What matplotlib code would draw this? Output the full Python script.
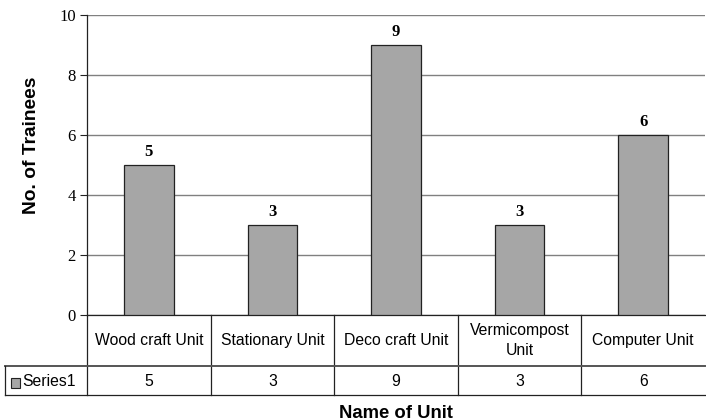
import numpy as np
import matplotlib.pyplot as plt

units = ["Wood craft Unit", "Stationary Unit", "Deco craft Unit", "Vermicompost\nUnit", "Computer Unit"]
trainees = [5, 3, 9, 3, 6]
series_name = "Series1"
yticks = [0, 2, 4, 6, 8, 10]

W, H = 706, 420
fig = plt.figure(figsize=(W / 100, H / 100), dpi=100)

# plot area in pixel coords
px_left, px_right, px_top, px_bottom = 87, 705, 15, 315
ax = fig.add_axes([px_left / W, 1 - px_bottom / H, (px_right - px_left) / W, (px_bottom - px_top) / H])

x = np.arange(len(units))
ax.bar(x, trainees, width=0.4, color="#a6a6a6", edgecolor="#222222", linewidth=0.9, zorder=3)
for xi, v in zip(x, trainees):
    ax.text(xi, v + 0.3, str(v), ha="center", va="baseline", fontsize=12,
            fontweight="bold", family="Liberation Serif")

ax.set_xlim(-0.5, len(units) - 0.5)
ax.set_ylim(0, 10)
ax.set_yticks(yticks)
ax.set_yticklabels([str(t) for t in yticks], family="Liberation Serif", fontsize=12)
ax.tick_params(axis="y", length=5, width=0.8, color="#222222", pad=3)
ax.set_xticks([])
ax.grid(axis="y", color="#808080", linewidth=1.0, zorder=0)
for s in ["top", "right"]:
    ax.spines[s].set_visible(False)
for s in ["left", "bottom"]:
    ax.spines[s].set_color("#222222")
    ax.spines[s].set_linewidth(0.9)

# data table below the axis, drawn in pixel coordinates
tab = fig.add_axes([0, 0, 1, 1], facecolor="none")
tab.set_xlim(0, W)
tab.set_ylim(H, 0)
tab.axis("off")
row1, row2, row3 = 315, 366, 395
leg_left = 5
col_w = (px_right - px_left) / len(units)
bounds = [px_left + i * col_w for i in range(len(units) + 1)]
lc = "#222222"
for b in bounds[:-1]:
    tab.plot([b, b], [row1, row3], color=lc, lw=0.9)
tab.plot([leg_left, px_right], [row2, row2], color="#555555", lw=1.4)
tab.plot([leg_left, px_right], [row3, row3], color=lc, lw=0.9)
tab.plot([leg_left, leg_left], [row2, row3], color=lc, lw=0.9)
for i, (u, v) in enumerate(zip(units, trainees)):
    cx = (bounds[i] + bounds[i + 1]) / 2
    tab.text(cx, (row1 + row2) / 2, u, ha="center", va="center", fontsize=11.3,
             family="Liberation Sans", linespacing=1.4)
    tab.text(cx, (row2 + row3) / 2 + 1.5, str(v), ha="center", va="center", fontsize=11.3,
             family="Liberation Sans")
tab.add_patch(plt.Rectangle((11, 378), 9, 10, facecolor="#a6a6a6", edgecolor=lc, lw=0.8))
tab.text(22, (row2 + row3) / 2 + 1.5, series_name, ha="left", va="center", fontsize=11.3,
         family="Liberation Sans")
tab.text((px_left + px_right) / 2, 413, "Name of Unit", ha="center", va="center",
         fontsize=13.3, fontweight="bold", family="Liberation Sans")
tab.text(32, 145, "No. of Trainees", ha="center", va="center",
         rotation=90, fontsize=13.8, fontweight="bold", family="Liberation Sans")

fig.savefig("out.png", dpi=100)
